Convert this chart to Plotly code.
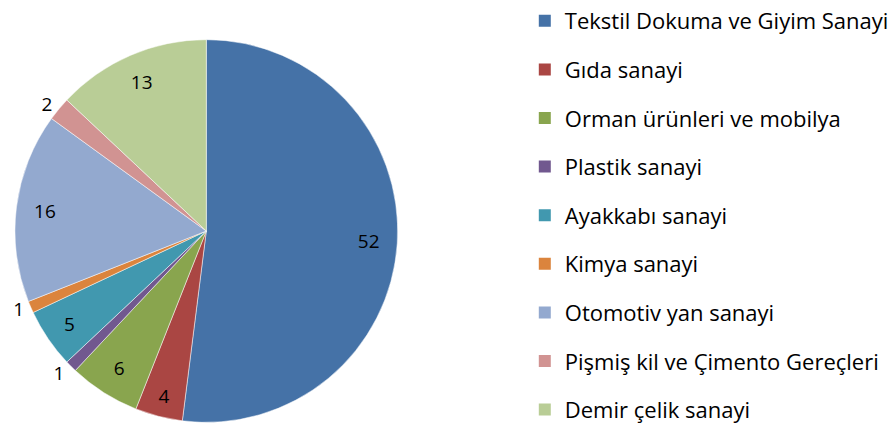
import plotly.graph_objects as go

labels = ['Tekstil Dokuma ve Giyim Sanayi', 'Gıda sanayi', 'Orman ürünleri ve mobilya',
          'Plastik sanayi', 'Ayakkabı sanayi', 'Kimya sanayi', 'Otomotiv yan sanayi',
          'Pişmiş kil ve Çimento Gereçleri', 'Demir çelik sanayi']
values = [52, 4, 6, 1, 5, 1, 16, 2, 13]
colors = ['#4572A7', '#AA4643', '#89A54E', '#71588F', '#4198AF',
          '#DB843D', '#93A9CF', '#D19392', '#B9CD96']
text_pos = ['inside', 'inside', 'inside', 'outside', 'inside',
            'outside', 'inside', 'outside', 'inside']

FONT = 'Open Sans'
pie_domain = dict(x=[15 / 894, 399 / 894], y=[9 / 432, 393 / 432])

fig = go.Figure()

fig.add_trace(go.Pie(
    labels=labels, values=values,
    sort=False, direction='clockwise', rotation=0,
    marker=dict(colors=colors, line=dict(color='white', width=0.5)),
    textinfo='value', textposition=text_pos,
    textfont=dict(family=FONT, size=19, color='rgba(0,0,0,0)'),
    domain=pie_domain,
    showlegend=False,
    hoverinfo='label+value',
))

# transparent ring on top, only to put the value labels near the rim
fig.add_trace(go.Pie(
    labels=labels, values=values,
    sort=False, direction='clockwise', rotation=0, hole=0.7,
    marker=dict(colors=['rgba(0,0,0,0)'] * len(values), line=dict(width=0)),
    textinfo='value', textposition=text_pos,
    insidetextorientation='horizontal',
    textfont=dict(family=FONT, size=19, color='black'),
    domain=pie_domain,
    showlegend=False,
    hoverinfo='skip',
))

# legend built from dummy traces so the item spacing can be set
for i, (lab, col) in enumerate(zip(labels, colors)):
    fig.add_trace(go.Scatter(
        x=[None], y=[None], mode='markers', name=lab,
        legendgroup=str(i),
        marker=dict(symbol='square', size=12, color=col),
    ))

fig.update_layout(
    width=894, height=432,
    margin=dict(l=0, r=0, t=0, b=0),
    paper_bgcolor='white', plot_bgcolor='white',
    font=dict(family=FONT, size=22, color='black'),
    xaxis=dict(visible=False), yaxis=dict(visible=False),
    legend=dict(x=0.589, y=1.0, xanchor='left', yanchor='top',
                maxheight=600,
                tracegroupgap=17, itemsizing='constant',
                font=dict(family=FONT, size=22, color='black')),
)

# drop the page's default body margin so the figure sits at the corner
fig.write_html('out.html', config={'displayModeBar': False},
               post_script="document.body.style.margin = '0';")
